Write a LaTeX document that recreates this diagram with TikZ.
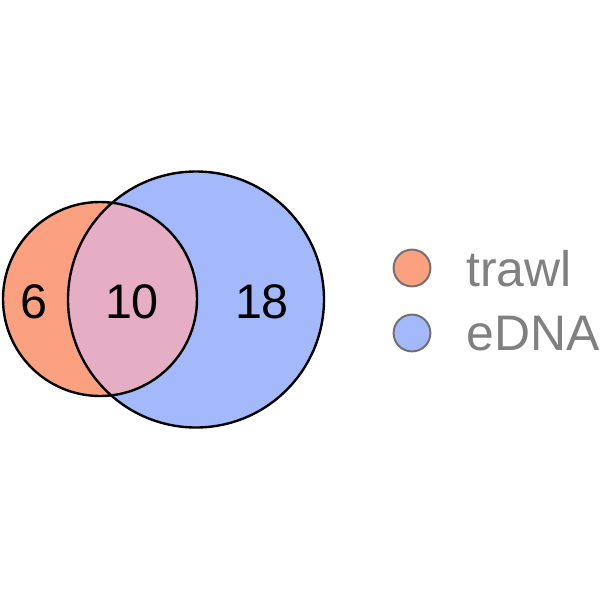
\documentclass[tikz,border=0pt]{standalone}
\usepackage{fontspec}
\setmainfont{Liberation Sans}
\usetikzlibrary{positioning}
\definecolor{trawlfill}{RGB}{252,161,128}
\definecolor{ednafill}{RGB}{164,185,252}
\definecolor{bothfill}{RGB}{230,174,197}
\definecolor{keygray}{RGB}{112,112,112}
\definecolor{labgray}{RGB}{128,128,128}

\begin{document}
\begin{tikzpicture}[
    x=0.025cm, y=-0.025cm,
    every node/.style={font=\fontsize{34.5}{40}\selectfont},
    count/.style={inner sep=0pt, anchor=base},
    keydot/.style={circle, draw=keygray, line width=1.4pt, minimum size=0.92cm, inner sep=0pt},
    keylab/.style={anchor=base west, inner sep=0pt, text=labgray, font=\fontsize{35.5}{40}\selectfont},
    ring/.style={draw=black, line width=1.7pt}
]
    \useasboundingbox (0,0) rectangle (600,600);

    % Set circles
    \fill[trawlfill] (100,299) circle (97);
    \fill[ednafill] (196,299.5) circle (128);
    \begin{scope}
        \clip (100,299) circle (97);
        \fill[bothfill] (196,299.5) circle (128);
    \end{scope}
    \draw[ring] (100,299) circle (97);
    \draw[ring] (196,299.5) circle (128);

    % Counts
    \node[count] (only1) at (34,318) {6};
    \node[count] (both) at (132,318) {10};
    \node[count] (only2) at (262,318) {18};

    % Legend
    \node[keydot, fill=trawlfill] (k1) at (412,268) {};
    \node[keydot, fill=ednafill] (k2) at (412,333) {};
    \node[keylab] (l1) at (466,286) {trawl};
    \node[keylab] (l2) at (466,350) {eDNA};
\end{tikzpicture}
\end{document}
